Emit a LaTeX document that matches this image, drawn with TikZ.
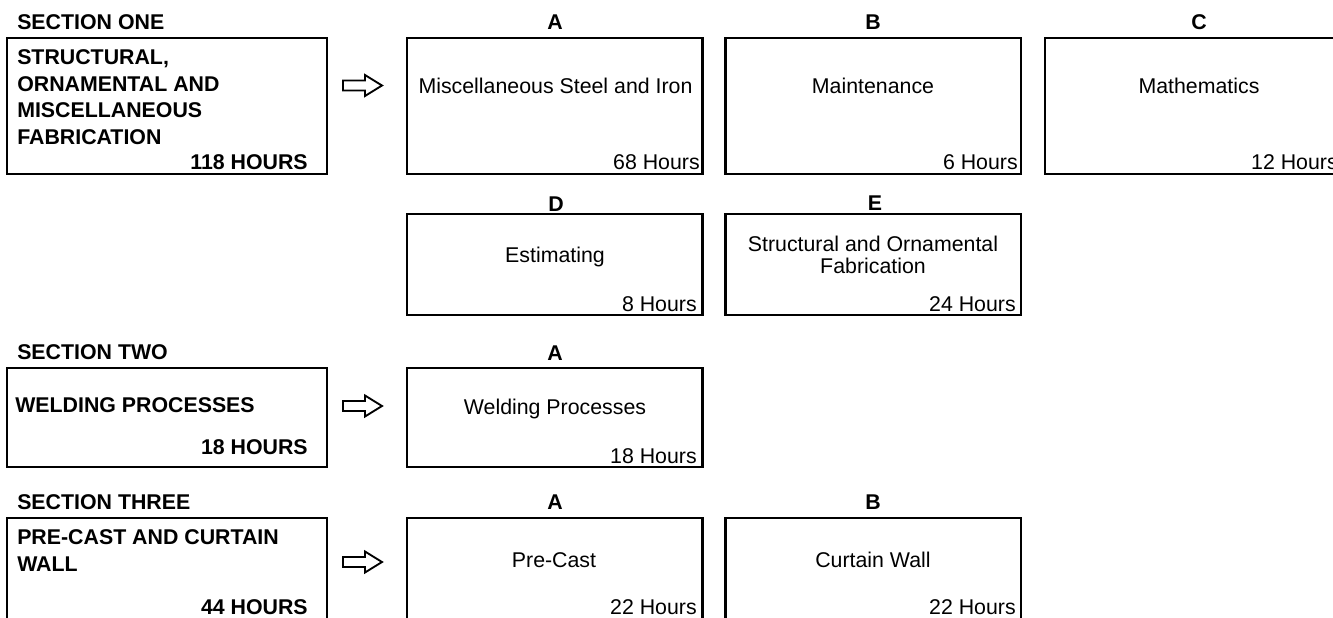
\documentclass[tikz,border=0pt]{standalone}
\usepackage{fontspec}
\setmainfont{Liberation Sans}
\begin{document}
\begin{tikzpicture}[x=0.75pt,y=-0.75pt,
  frame/.style={draw, line width=1.7pt, inner sep=0pt, outer sep=0pt, anchor=north west},
  lbox/.style={frame, minimum width=240pt},
  rbox/.style={frame, minimum width=221.6pt},
  hdr/.style={font=\fontsize{16}{20}\selectfont\bfseries, inner sep=0pt},
  btxt/.style={font=\fontsize{16}{20}\selectfont\bfseries, inner sep=0pt, align=left},
  txt/.style={font=\fontsize{16}{16.5}\selectfont, inner sep=0pt, align=center},
  hrs/.style={font=\fontsize{16}{20}\selectfont, inner sep=0pt, anchor=base east},
  bhrs/.style={hrs, font=\fontsize{16}{20}\selectfont\bfseries},
  pics/blockarrow/.style={code={
    \draw[line width=1.4pt, line join=miter]
      (0,-5) -- (22,-5) -- (22,-10.5) -- (39,0) -- (22,10.5) -- (22,5) -- (0,5) -- cycle;}}
]
\clip (0,0) rectangle (1333,617);

% ---------------- Section one ----------------
\node[hdr, anchor=base west] (h1) at (17,29.5) {SECTION ONE};
\node[hdr, anchor=base] (h1a) at (555,29.5) {A};
\node[hdr, anchor=base] (h1b) at (873,29.5) {B};
\node[hdr, anchor=base] (h1c) at (1199,29.5) {C};

\node[lbox, minimum height=102pt] (s1) at (7,38) {};
\node[btxt, anchor=north west] (s1t) at (17,49.5) {STRUCTURAL,\\ORNAMENTAL AND\\MISCELLANEOUS\\FABRICATION};
\node[bhrs] (s1h) at (308,169) {118 HOURS};
\pic (ar1) at (343,85.5) {blockarrow};

\node[rbox, minimum height=102pt] (a1) at (407,38) {};
\node[txt, anchor=base] (a1t) at (555.5,93.5) {Miscellaneous Steel and Iron};
\node[hrs] (a1h) at (700,169) {68 Hours};

\node[rbox, minimum height=102pt] (b1) at (725.5,38) {};
\node[txt, anchor=base] (b1t) at (873,93.5) {Maintenance};
\node[hrs] (b1h) at (1018,169) {6 Hours};

\node[rbox, minimum height=102pt] (c1) at (1045,38) {};
\node[txt, anchor=base] (c1t) at (1199,93.5) {Mathematics};
\node[hrs] (c1h) at (1338,169) {12 Hours};

\node[hdr, anchor=base] (h1d) at (556,211) {D};
\node[hdr, anchor=base] (h1e) at (875,210) {E};

\node[rbox, minimum height=75.75pt] (d1) at (407,214) {};
\node[txt, anchor=base] (d1t) at (555,262.5) {Estimating};
\node[hrs] (d1h) at (697,311.5) {8 Hours};

\node[rbox, minimum height=75.75pt] (e1) at (725.5,214) {};
\node[txt, anchor=north] (e1t) at (873,235.5) {Structural and Ornamental\\Fabrication};
\node[hrs] (e1h) at (1016,311.5) {24 Hours};

% ---------------- Section two ----------------
\node[hdr, anchor=base west] (h2) at (17,359.5) {SECTION TWO};
\node[hdr, anchor=base] (h2a) at (555,360) {A};

\node[lbox, minimum height=74.25pt] (s2) at (7,368) {};
\node[btxt, anchor=base west] (s2t) at (15,412.5) {WELDING PROCESSES};
\node[bhrs] (s2h) at (308,454.5) {18 HOURS};
\pic (ar2) at (343,406) {blockarrow};

\node[rbox, minimum height=74.25pt] (a2) at (407,368) {};
\node[txt, anchor=base] (a2t) at (555,414.5) {Welding Processes};
\node[hrs] (a2h) at (697,463.5) {18 Hours};

% ---------------- Section three ----------------
\node[hdr, anchor=base west] (h3) at (17,509.5) {SECTION THREE};
\node[hdr, anchor=base] (h3a) at (555,509.5) {A};
\node[hdr, anchor=base] (h3b) at (873,509.5) {B};

\node[lbox, minimum height=76.5pt] (s3) at (7,518) {};
\node[btxt, anchor=north west] (s3t) at (17,529.5) {PRE-CAST AND CURTAIN\\WALL};
\node[bhrs] (s3h) at (308,614.5) {44 HOURS};
\pic (ar3) at (343,562) {blockarrow};

\node[rbox, minimum height=76.5pt] (a3) at (407,518) {};
\node[txt, anchor=base] (a3t) at (554,567.5) {Pre-Cast};
\node[hrs] (a3h) at (697,614.5) {22 Hours};

\node[rbox, minimum height=76.5pt] (b3) at (725.5,518) {};
\node[txt, anchor=base] (b3t) at (873,567.5) {Curtain Wall};
\node[hrs] (b3h) at (1016,614.5) {22 Hours};
\end{tikzpicture}
\end{document}
